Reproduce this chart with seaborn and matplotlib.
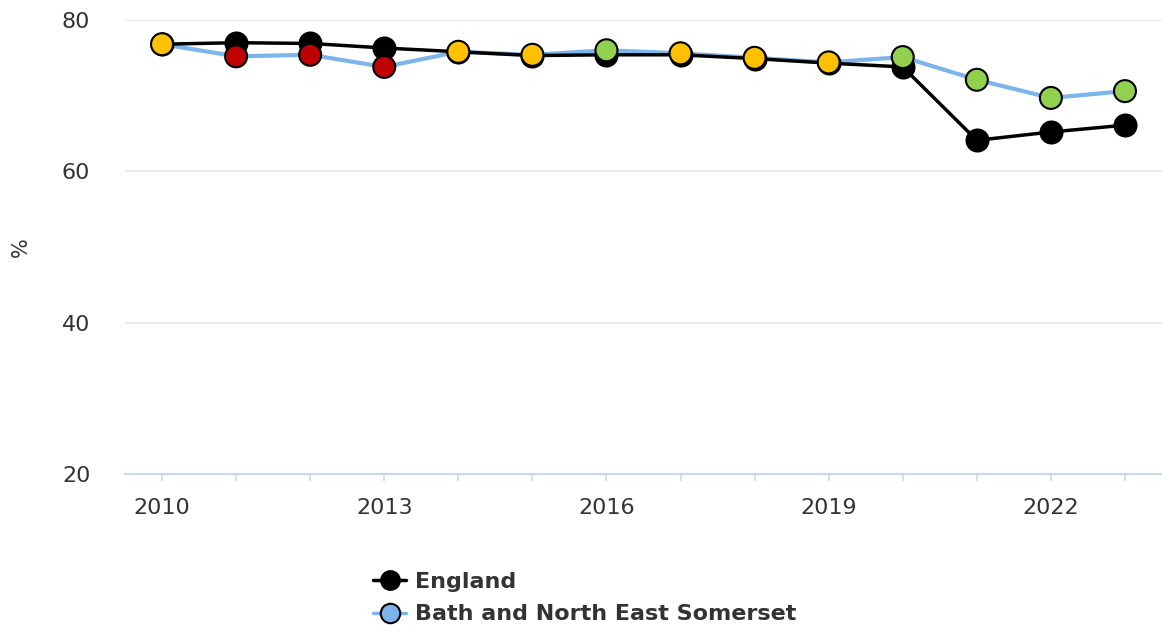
import matplotlib
matplotlib.use("Agg")
import matplotlib.pyplot as plt
import seaborn as sns
import pandas as pd
from matplotlib.lines import Line2D

years = list(range(2010, 2024))
england = [76.8, 77.0, 76.9, 76.3, 75.8, 75.3, 75.4, 75.4, 74.9, 74.3, 73.8, 64.1, 65.2, 66.1]
banes = [76.8, 75.2, 75.4, 73.8, 75.8, 75.4, 76.0, 75.6, 75.0, 74.4, 75.1, 72.1, 69.7, 70.6]
banes_status = ["similar", "worse", "worse", "worse", "similar", "similar", "better",
                "similar", "similar", "similar", "better", "better", "better", "better"]
status_colors = {"better": "#92D050", "similar": "#FFC000", "worse": "#C00000"}
series_names = ["England", "Bath and North East Somerset"]
tick_years = [2010, 2013, 2016, 2019, 2022]
y_ticks = [20, 40, 60, 80]

df_eng = pd.DataFrame({"year": years, "value": england})
df_ban = pd.DataFrame({"year": years, "value": banes, "status": banes_status})

sns.set_theme(style="white")
plt.rcParams["font.family"] = ["DejaVu Sans"]

fig = plt.figure(figsize=(11.62, 6.33), dpi=100)
ax = fig.add_axes([125/1162, 1 - 474/633, (1162-125)/1162, (474-20)/633])

# lines
sns.lineplot(data=df_ban, x="year", y="value", ax=ax, color="#7CB5EC", linewidth=3, zorder=2)
sns.lineplot(data=df_eng, x="year", y="value", ax=ax, color="black", linewidth=2.5, zorder=3)
# markers
sns.scatterplot(data=df_eng, x="year", y="value", ax=ax, color="black", s=250,
                edgecolor="black", linewidth=1.5, zorder=4, clip_on=False)
sns.scatterplot(data=df_ban, x="year", y="value", hue="status", palette=status_colors, ax=ax,
                s=250, edgecolor="black", linewidth=1.5, zorder=5, clip_on=False, legend=False)

ax.set_xlim(2010 - 0.5, 2023 + 0.5)
ax.set_ylim(20, 80)
ax.set_yticks(y_ticks)
ax.set_xticks(years)
ax.set_xticklabels([str(y) if y in tick_years else "" for y in years])
ax.yaxis.grid(True, color="#e6e6e6", linewidth=1.2)
ax.xaxis.grid(False)
for s in ["top", "right", "left"]:
    ax.spines[s].set_visible(False)
ax.spines["bottom"].set_color("#ccd6eb")
ax.spines["bottom"].set_linewidth(1.5)
ax.tick_params(axis="x", colors="#ccd6eb", length=5, width=1.2, labelcolor="#333333",
               labelsize=16, pad=12, bottom=True)
ax.tick_params(axis="y", length=0, labelcolor="#333333", labelsize=16, pad=25)
ax.set_xlabel("")
ax.set_ylabel("%", fontsize=15, color="#333333", labelpad=22)

handles = [
    Line2D([0], [0], color="black", linewidth=2.5, marker="o", markersize=14,
           markerfacecolor="black", markeredgecolor="black"),
    Line2D([0], [0], color="#7CB5EC", linewidth=2.5, marker="o", markersize=14,
           markerfacecolor="#7CB5EC", markeredgecolor="black", markeredgewidth=1.5),
]
leg = fig.legend(handles, series_names, loc="upper left", bbox_to_anchor=(362/1162, 1 - 561/633),
                 frameon=False, fontsize=16, handlelength=1.5, handletextpad=0.4,
                 labelspacing=0.55, borderpad=0)
for t in leg.get_texts():
    t.set_color("#333333")
    t.set_fontweight("semibold")

fig.savefig("out.png", dpi=100)
